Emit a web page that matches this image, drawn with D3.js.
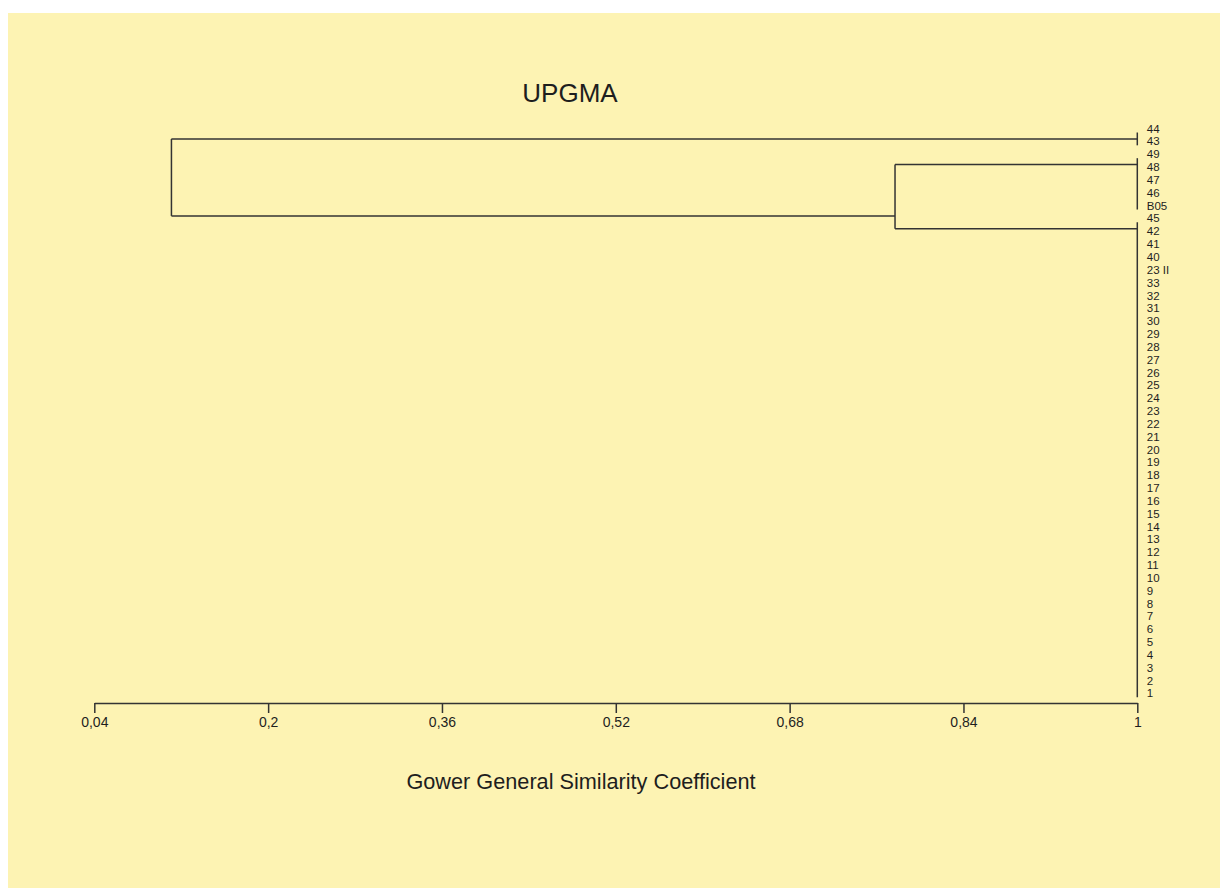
<!DOCTYPE html>
<html>
<head>
<meta charset="utf-8">
<title>UPGMA dendrogram</title>
<script src="https://cdn.jsdelivr.net/npm/d3@7"></script>
<style>
  body { margin: 0; background: #ffffff; }
  text { font-family: "Liberation Sans", Arial, sans-serif; fill: #1e1e1e; }
  .link { stroke: #333333; stroke-width: 1.5px; fill: none; }
  .axis path, .axis line { stroke: #333333; stroke-width: 1.5px; }
</style>
</head>
<body>
<script>
// leaf order, top to bottom
var leaves = ["44", "43", "49", "48", "47", "46", "B05", "45", "42", "41", "40", "23 II",
  "33", "32", "31", "30", "29", "28", "27", "26", "25", "24", "23", "22", "21", "20",
  "19", "18", "17", "16", "15", "14", "13", "12", "11", "10", "9", "8", "7", "6", "5",
  "4", "3", "2", "1"];

// groups of leaves joined at similarity 1 (first and last leaf of each)
var tiedGroups = [
  { id: "A", first: "44", last: "43" },
  { id: "B", first: "49", last: "B05" },
  { id: "C", first: "45", last: "1" }
];

// merges between groups
var merges = [
  { id: "BC", children: ["B", "C"], sim: 0.777 },
  { id: "root", children: ["A", "BC"], sim: 0.111 }
];

var tickValues = [0.04, 0.2, 0.36, 0.52, 0.68, 0.84, 1];

var W = 1220, H = 888;

var svg = d3.select("body").append("svg")
  .attr("width", W)
  .attr("height", H);

svg.append("rect")
  .attr("x", 8).attr("y", 13)
  .attr("width", W - 8).attr("height", H - 13)
  .attr("fill", "#fdf3b3");

var x = d3.scaleLinear().domain([0.04, 1]).range([94.3, 1137.3]);
var y = d3.scalePoint().domain(leaves).range([132.5, 697.3]);
var step = y.step();

// node lookup: first leaf, last leaf, similarity, y of horizontal line
var nodes = {};
tiedGroups.forEach(function (g) {
  nodes[g.id] = {
    first: g.first, last: g.last, sim: 1,
    // node sits in the gap after its first leaf
    y: y(g.first) + step / 2
  };
});
merges.forEach(function (m) {
  var a = nodes[m.children[0]], b = nodes[m.children[1]];
  nodes[m.id] = {
    first: a.first, last: b.last, sim: m.sim,
    // node sits in the gap between the two subclusters
    y: (y(a.last) + y(b.first)) / 2
  };
});

var g = svg.append("g");

// vertical bars of tied groups at similarity 1
g.selectAll(".tied")
  .data(tiedGroups)
  .enter().append("line")
  .attr("class", "link")
  .attr("x1", x(1)).attr("x2", x(1))
  .attr("y1", function (d) { return y(d.first); })
  .attr("y2", function (d) { return y(d.last); });

// merges: vertical connector plus horizontal branch to each child
merges.forEach(function (m) {
  var a = nodes[m.children[0]], b = nodes[m.children[1]];
  g.append("line").attr("class", "link")
    .attr("x1", x(m.sim)).attr("x2", x(m.sim))
    .attr("y1", a.y).attr("y2", b.y);
  [a, b].forEach(function (c) {
    g.append("line").attr("class", "link")
      .attr("x1", x(m.sim)).attr("x2", x(c.sim))
      .attr("y1", c.y).attr("y2", c.y);
  });
});

// leaf labels
svg.append("g").selectAll("text")
  .data(leaves)
  .enter().append("text")
  .attr("x", x(1) + 9.5)
  .attr("y", function (d) { return y(d) - 4; })
  .attr("dy", "0.36em")
  .style("font-size", "11.5px")
  .text(function (d) { return d; });

// axis
var xAxis = d3.axisBottom(x)
  .tickValues(tickValues)
  .tickSize(10)
  .tickSizeOuter(0)
  .tickPadding(4)
  .tickFormat(function (d) { return String(d).replace(".", ","); });

svg.append("g")
  .attr("class", "axis")
  .attr("transform", "translate(0,703)")
  .call(xAxis)
  .call(function (s) {
    s.selectAll("text")
      .style("font-size", "14px")
      .style("font-family", "\"Liberation Sans\", Arial, sans-serif")
      .attr("fill", "#1e1e1e");
  });

// title and axis label
svg.append("text")
  .attr("x", 570).attr("y", 93)
  .attr("dy", "0.36em")
  .attr("text-anchor", "middle")
  .style("font-size", "26px")
  .text("UPGMA");

svg.append("text")
  .attr("x", 581).attr("y", 781)
  .attr("dy", "0.36em")
  .attr("text-anchor", "middle")
  .style("font-size", "21.7px")
  .text("Gower General Similarity Coefficient");
</script>
</body>
</html>
